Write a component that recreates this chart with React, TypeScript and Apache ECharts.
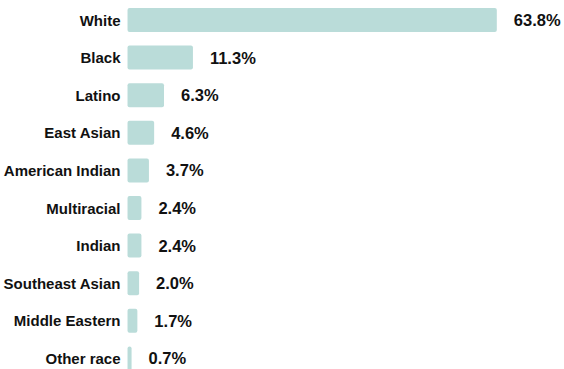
import React, { useEffect, useRef } from "react";
import * as echarts from "echarts";

const categories = [
  "White",
  "Black",
  "Latino",
  "East Asian",
  "American Indian",
  "Multiracial",
  "Indian",
  "Southeast Asian",
  "Middle Eastern",
  "Other race",
];
const values = [63.8, 11.3, 6.3, 4.6, 3.7, 2.4, 2.4, 2.0, 1.7, 0.7];

export default function App() {
  const ref = useRef<HTMLDivElement>(null);
  useEffect(() => {
    if (!ref.current) return;
    const chart = echarts.init(ref.current, null, { renderer: "svg" });
    chart.setOption({
      animation: false,
      grid: { left: 126, top: 1.2, width: 406.7, height: 376, containLabel: false },
      xAxis: {
        type: "value",
        min: 0,
        max: 70,
        show: false,
      },
      yAxis: {
        type: "category",
        data: categories,
        inverse: true,
        axisLine: { show: false },
        axisTick: { show: false },
        splitLine: { show: false },
        axisLabel: {
          margin: 7,
          fontSize: 15,
          fontWeight: "bold",
          color: "#111",
          fontFamily: "Liberation Sans, Arial, sans-serif",
        },
      },
      series: [
        {
          type: "bar",
          data: values,
          barWidth: 24,
          itemStyle: { color: "#badcd9", borderRadius: 2 },
          label: {
            show: true,
            position: "right",
            distance: 17,
            formatter: (p: any) => p.value.toFixed(1) + "%",
            fontSize: 16.5,
            fontWeight: "bold",
            color: "#111",
            fontFamily: "Liberation Sans, Arial, sans-serif",
          },
        },
      ],
    });
    return () => chart.dispose();
  }, []);
  return (
    <div
      style={{ position: "fixed", left: 0, top: 0, width: 564, height: 369, overflow: "hidden", background: "#fff" }}
    >
      <div ref={ref} style={{ width: 564, height: 380 }} />
    </div>
  );
}
